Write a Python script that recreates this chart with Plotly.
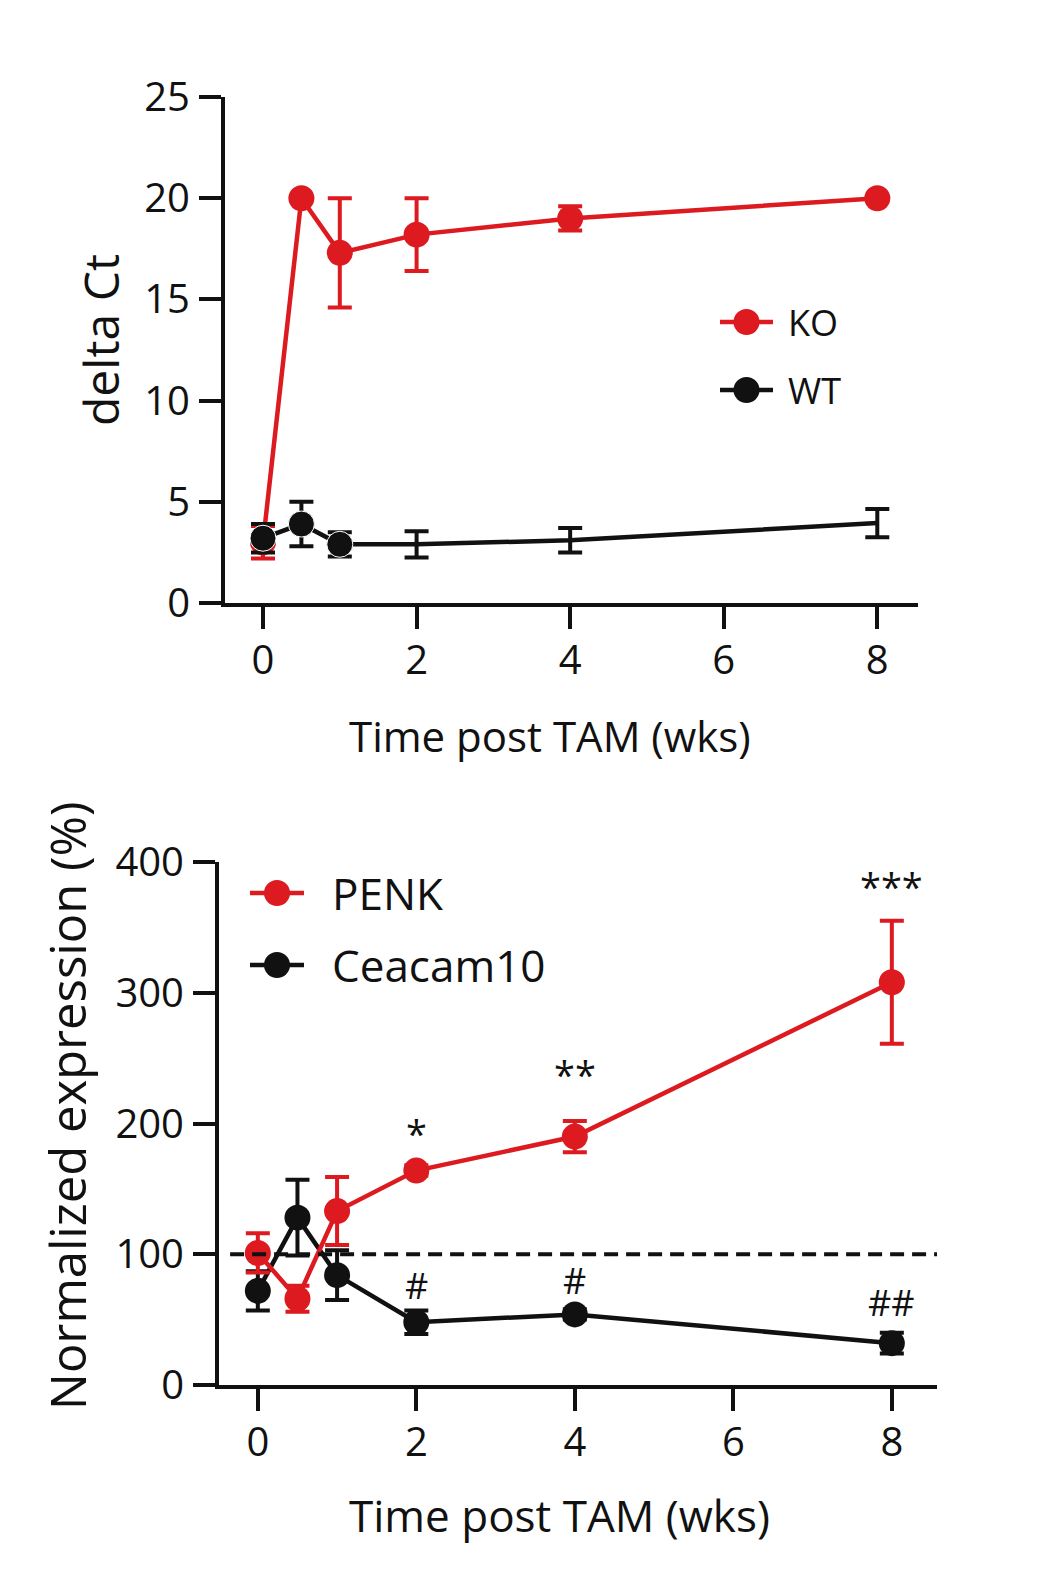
import plotly.graph_objects as go

# top panel: delta Ct after tamoxifen
weeks = [0, 0.5, 1, 2, 4, 8]
ko_ct = [3.0, 20.0, 17.3, 18.2, 19.0, 20.0]
ko_ct_err = [0.8, 0.0, 2.7, 1.8, 0.6, 0.0]
wt_ct = [3.2, 3.9, 2.9, 2.9, 3.1, 3.95]
wt_ct_err = [0.7, 1.1, 0.6, 0.65, 0.6, 0.7]
wt_shown = [True, True, True, False, False, False]   # WT dots only drawn on first three

# bottom panel: normalized expression
penk = [101, 66, 133, 164, 190, 308]
penk_err = [15, 10, 26, 4, 12, 47]
ceacam10 = [72, 128, 84, 48, 54, 32]
ceacam10_err = [15, 29, 19, 9, 4, 8]

star_x = [2, 4, 8]
star_y = [193, 238, 382]
star_txt = ["*", "**", "***"]
hash_x = [2, 4, 8]
hash_y = [76, 80, 63]
hash_txt = ["#", "#", "##"]

W, H = 1056, 1569
OFF = 8  # page body margin, figure sits 8px in from the corner
RED = "#dc1a20"
BLACK = "#111111"
FONT = "Open Sans"


def px(x):
    return (x - OFF) / W


def py(y):
    return 1 - (y - OFF) / H


def series(x, y, err, color, xa, ya, sizes=None):
    return go.Scatter(
        x=x, y=y, xaxis=xa, yaxis=ya, mode="lines+markers",
        line=dict(color=color, width=4.5),
        marker=dict(color=color, size=sizes if sizes else 26, opacity=1),
        error_y=dict(type="data", array=err, color=color, thickness=4, width=12),
        showlegend=False, cliponaxis=False,
    )


fig = go.Figure()
fig.add_trace(series(weeks, ko_ct, ko_ct_err, RED, "x", "y"))
fig.add_trace(series(weeks, wt_ct, wt_ct_err, BLACK, "x", "y",
                     sizes=[26 if s else 0 for s in wt_shown]))
fig.add_trace(series(weeks, ceacam10, ceacam10_err, BLACK, "x2", "y2"))
fig.add_trace(series(weeks, penk, penk_err, RED, "x2", "y2"))

axis_style = dict(showgrid=False, zeroline=False, showline=True, linecolor=BLACK,
                  linewidth=4, ticks="outside", ticklen=22, tickwidth=4, automargin=False,
                  tickcolor=BLACK, tickfont=dict(family=FONT, size=40, color=BLACK))

fig.update_layout(
    width=W, height=H, margin=dict(l=0, r=0, t=0, b=0, autoexpand=False),
    paper_bgcolor="#fff", plot_bgcolor="#fff",
    font=dict(family=FONT, color=BLACK),
    xaxis=dict(axis_style, domain=[px(225), px(918)], range=[-0.495, 8.53],
               tickvals=[0, 2, 4, 6, 8], anchor="y", ticklabelstandoff=-3),
    yaxis=dict(axis_style, domain=[py(603), py(97)], range=[0, 25],
               tickvals=[0, 5, 10, 15, 20, 25], anchor="x", ticklabelstandoff=1),
    xaxis2=dict(axis_style, domain=[px(219), px(937)], range=[-0.49, 8.57],
                tickvals=[0, 2, 4, 6, 8], anchor="y2", ticklabelstandoff=-3),
    yaxis2=dict(axis_style, domain=[py(1385), py(862)], range=[0, 400],
                tickvals=[0, 100, 200, 300, 400], anchor="x2", ticklabelstandoff=1),
)

# dashed 100% reference line
fig.add_shape(type="line", xref="x2", yref="y2", x0=-0.35, x1=8.6, y0=100, y1=100,
              line=dict(color=BLACK, width=4, dash="14px,8px"))

# significance marks
for x, y, t in zip(star_x, star_y, star_txt):
    fig.add_annotation(x=x, y=y, xref="x2", yref="y2", text=t, showarrow=False,
                       font=dict(size=38, color=BLACK))
for x, y, t in zip(hash_x, hash_y, hash_txt):
    fig.add_annotation(x=x, y=y, xref="x2", yref="y2", text=t, showarrow=False,
                       font=dict(size=36, color=BLACK))

# axis titles
titles = [
    ("Time post TAM (wks)", 550, 735, 0, 42),
    ("delta Ct", 100, 340, -90, 48),
    ("Time post TAM (wks)", 559, 1515, 0, 44),
    ("Normalized expression (%)", 67, 1106, -90, 49),
]
for t, x, y, ang, sz in titles:
    fig.add_annotation(x=px(x), y=py(y), xref="paper", yref="paper", text=t,
                       xanchor="center", yanchor="middle",
                       showarrow=False, textangle=ang, font=dict(size=sz, color=BLACK))

# hand-drawn legends (line + dot + label)
legend_items = [
    ("KO", RED, 720, 773, 322, 786, 36),
    ("WT", BLACK, 720, 773, 390, 786, 36),
    ("PENK", RED, 250, 304, 893, 330, 44),
    ("Ceacam10", BLACK, 250, 304, 965, 330, 44),
]
for name, col, x0, x1, y, tx, sz in legend_items:
    fig.add_shape(type="line", xref="paper", yref="paper", x0=px(x0), x1=px(x1),
                  y0=py(y), y1=py(y), line=dict(color=col, width=4.5))
    fig.add_shape(type="circle", xref="paper", yref="paper",
                  xsizemode="pixel", ysizemode="pixel",
                  xanchor=px((x0 + x1) / 2), yanchor=py(y),
                  x0=-13, x1=13, y0=-13, y1=13,
                  fillcolor=col, line=dict(color=col, width=0))
    fig.add_annotation(x=px(tx), y=py(y), xref="paper", yref="paper", text=name,
                       xanchor="left", yanchor="middle",
                       showarrow=False, font=dict(size=sz, color=BLACK))

fig.write_html("out.html")
